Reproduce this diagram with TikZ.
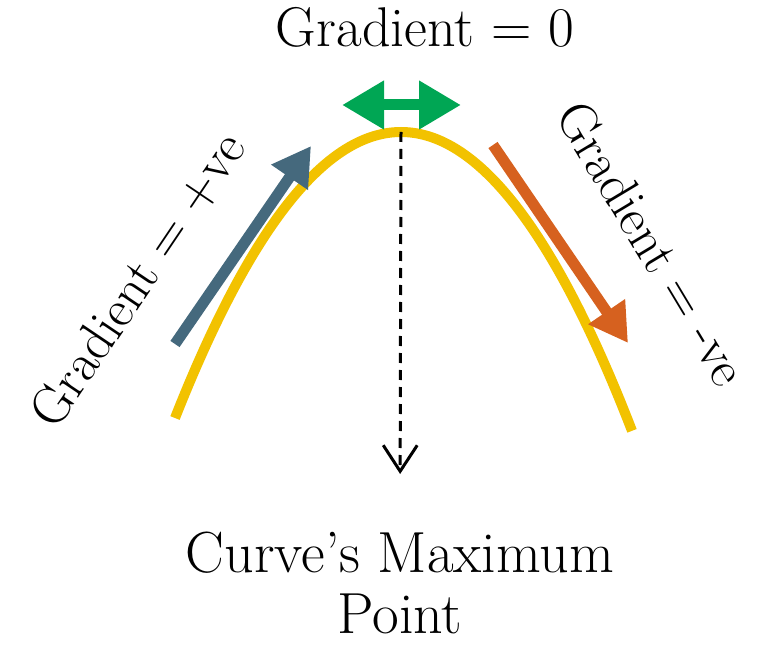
\documentclass[tikz,border=0pt]{standalone}
\usepackage{tikz}
\usetikzlibrary{arrows.meta}
\definecolor{curvecolor}{rgb}{0.95,0.76,0.0}
\definecolor{risecolor}{rgb}{0.27,0.41,0.49}
\definecolor{fallcolor}{rgb}{0.84,0.38,0.12}
\definecolor{flatcolor}{rgb}{0.0,0.65,0.33}

\begin{document}
\begin{tikzpicture}[x=0.5pt, y=-0.5pt]
\useasboundingbox (0,0) rectangle (760,652);
\coordinate (peak) at (401,132);
\coordinate (risetail) at (175,344);
\coordinate (risetip) at (311,146);
\coordinate (falltail) at (493,145);
\coordinate (falltip) at (628,343);
\coordinate (flatleft) at (342,105);
\coordinate (flatright) at (461,105);
\draw[draw=curvecolor, line width=5pt] plot[domain=175:632, samples=90, smooth] (\x, {132+0.56*((\x-401)/10)^2});
\draw[draw=risecolor, line width=5.5pt, -{Triangle[length=19pt,width=21pt]}] (risetail) -- (risetip);
\draw[draw=fallcolor, line width=5.5pt, -{Triangle[length=19pt,width=21pt]}] (falltail) -- (falltip);
\draw[draw=flatcolor, line width=5.5pt, {Triangle[length=21pt,width=23pt]}-{Triangle[length=21pt,width=23pt]}] (flatleft) -- (flatright);
\node[align=center, anchor=base, font=\fontsize{28}{31}\selectfont] (flatlabel) at (425,47) {Gradient = 0};
\node[align=center, anchor=north, inner sep=0pt, font=\fontsize{29}{30.5}\selectfont] (maxlabel) at (400,532) {Curve's Maximum\\Point};
\node[align=center, rotate=56, font=\fontsize{26.5}{31}\selectfont] (riselabel) at (138,280) {Gradient = +ve};
\node[align=center, rotate=-59, font=\fontsize{26.5}{31}\selectfont] (falllabel) at (652,243) {Gradient = -ve};
\draw[draw=black, line width=1.5pt, dash pattern=on 5pt off 3.5pt, shorten >=29pt, -{Straight Barb[length=13pt,width=17pt]}] (peak) -- (maxlabel.north);
\end{tikzpicture}
\end{document}
